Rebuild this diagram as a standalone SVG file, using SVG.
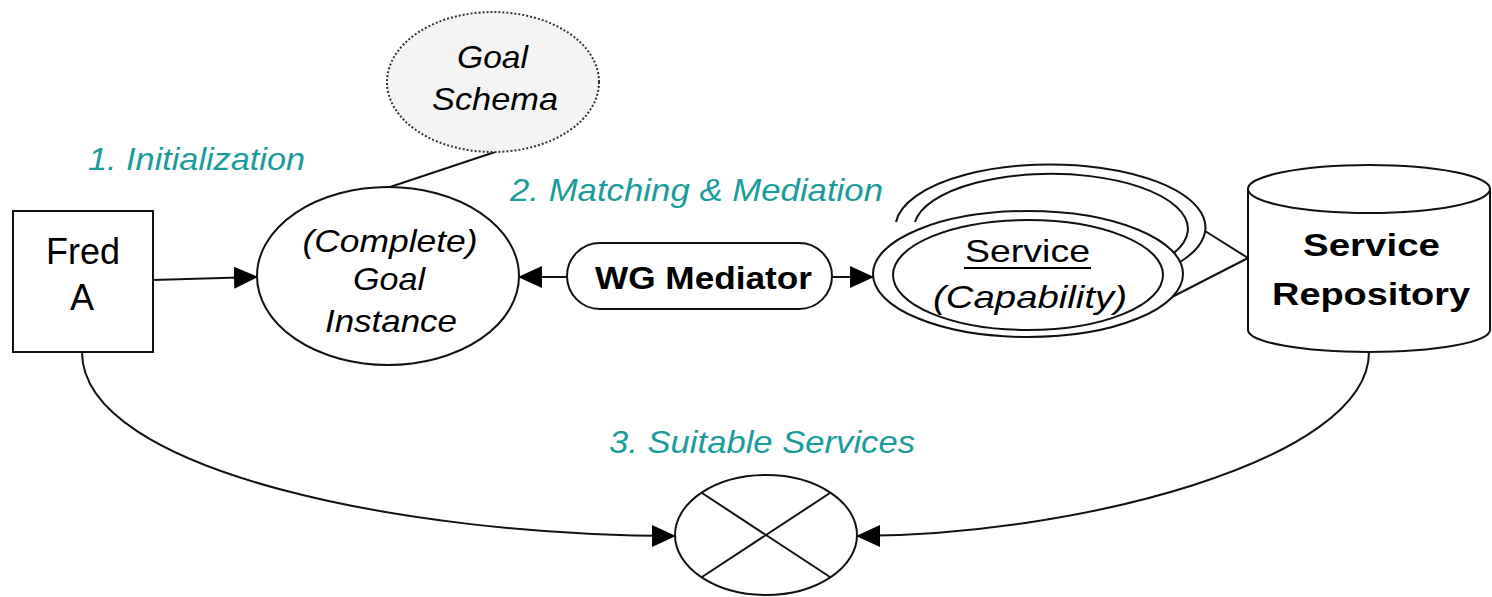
<svg xmlns="http://www.w3.org/2000/svg" width="1492" height="597" viewBox="0 0 1492 597">
<style>
.s{fill:none;stroke:#111;stroke-width:2}
.w{fill:#fff;stroke:#111;stroke-width:2}
.t{font-family:"Liberation Sans",Arial,sans-serif;fill:#000;font-size:32px}
.c{text-anchor:middle}
.i{font-style:italic}
.b{font-weight:bold}
.lab{font-family:"Liberation Sans",Arial,sans-serif;font-style:italic;font-size:32px;fill:#1a9c9a}
</style>
<defs>
<marker id="ah" markerUnits="userSpaceOnUse" markerWidth="24" markerHeight="24" viewBox="0 0 24 24" refX="23" refY="12" orient="auto">
<path d="M0,1 L24,12 L0,23 z" fill="#000"/>
</marker>
</defs>
<rect width="1492" height="597" fill="#fff"/>

<g id="connectors">
<line class="s" x1="495" y1="152" x2="390" y2="187"/>
<line class="s" x1="1205" y1="231" x2="1248" y2="258"/>
<line class="s" x1="1172" y1="297" x2="1248" y2="258"/>
<path class="s" d="M153 280 L257 277" marker-end="url(#ah)"/>
<path class="s" d="M567 277 L519 277" marker-end="url(#ah)"/>
<path class="s" d="M832 277 L873 277" marker-end="url(#ah)"/>
<path class="s" d="M82 352 C82 472 410 536 675 536" marker-end="url(#ah)"/>
<path class="s" d="M1369 352 C1369 462 1070 536 857 536" marker-end="url(#ah)"/>
</g>

<g id="fred">
<rect class="w" x="13" y="211" width="140" height="141"/>
<text class="t c" x="83" y="264" font-size="36" style="font-size:36px">Fred</text>
<text class="t c" x="82" y="310" style="font-size:36px">A</text>
</g>

<g id="goal-schema">
<ellipse cx="493" cy="82" rx="106" ry="70" fill="#f4f4f4" stroke="#333" stroke-width="2" stroke-dasharray="2 2"/>
<text class="t c i" x="492.5" y="68" textLength="71" lengthAdjust="spacingAndGlyphs">Goal</text>
<text class="t c i" x="495" y="110" textLength="126" lengthAdjust="spacingAndGlyphs">Schema</text>
</g>

<g id="goal-instance">
<ellipse class="w" cx="388" cy="276" rx="131" ry="89"/>
<text class="t c i" x="390" y="252" textLength="175" lengthAdjust="spacingAndGlyphs">(Complete)</text>
<text class="t c i" x="389" y="290" textLength="72" lengthAdjust="spacingAndGlyphs">Goal</text>
<text class="t c i" x="391" y="332" textLength="132" lengthAdjust="spacingAndGlyphs">Instance</text>
</g>

<g id="wg-mediator">
<rect class="w" x="567" y="243" width="265" height="66" rx="33" ry="33"/>
<text class="t c b" x="703.5" y="289" textLength="217" lengthAdjust="spacingAndGlyphs">WG Mediator</text>
</g>

<g id="service">
<path class="s" d="M896 222 A155 63 0 1 1 1180 262"/>
<path class="s" d="M915 222 A137 55 0 1 1 1174 253"/>
<ellipse class="w" cx="1028" cy="274" rx="155" ry="63"/>
<ellipse class="s" cx="1028" cy="275" rx="135" ry="55"/>
<text class="t c" x="1027.5" y="262" textLength="125" lengthAdjust="spacingAndGlyphs">Service</text>
<line x1="964" y1="268" x2="1091" y2="268" stroke="#000" stroke-width="2"/>
<text class="t c i" x="1030" y="308" textLength="194" lengthAdjust="spacingAndGlyphs">(Capability)</text>
</g>

<g id="service-repository">
<path class="w" d="M1248 189 L1248 330 A121 22 0 0 0 1490 330 L1490 189 z"/>
<ellipse class="w" cx="1369" cy="189" rx="121" ry="24"/>
<text class="t c b" x="1371.5" y="256" textLength="137" lengthAdjust="spacingAndGlyphs">Service</text>
<text class="t c b" x="1371" y="305" textLength="198" lengthAdjust="spacingAndGlyphs">Repository</text>
</g>

<g id="result">
<ellipse class="w" cx="766" cy="535" rx="91" ry="60"/>
<line class="s" x1="702" y1="493" x2="830" y2="577" stroke-width="1.5"/>
<line class="s" x1="830" y1="493" x2="702" y2="577" stroke-width="1.5"/>
</g>

<g id="labels">
<text class="lab" x="88" y="170" textLength="217" lengthAdjust="spacingAndGlyphs">1. Initialization</text>
<text class="lab" x="510" y="201" textLength="373" lengthAdjust="spacingAndGlyphs">2. Matching &amp; Mediation</text>
<text class="lab" x="609" y="453" textLength="306" lengthAdjust="spacingAndGlyphs">3. Suitable Services</text>
</g>
</svg>
